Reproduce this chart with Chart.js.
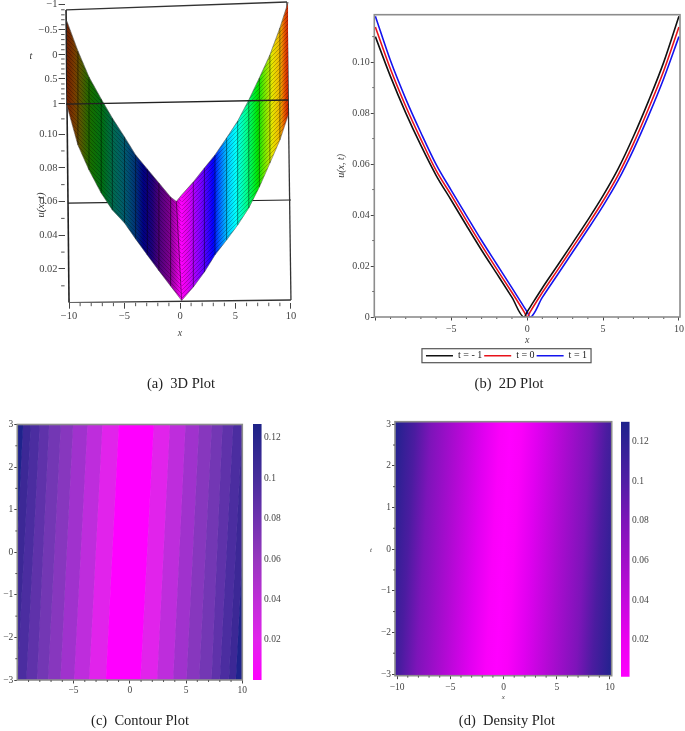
<!DOCTYPE html>
<html>
<head>
<meta charset="utf-8">
<script src="https://cdn.jsdelivr.net/npm/chart.js@4/dist/chart.umd.min.js"></script>
<style>
body { margin: 0; background: #fff; width: 685px; height: 731px; overflow: hidden; position: relative; font-family: "Liberation Serif", serif; }
canvas { position: absolute; }
.cap { position: absolute; font-size: 14.5px; color: #222; white-space: pre; transform: translateX(-50%); }
.lab { position: absolute; font-style: italic; color: #333; white-space: pre; transform: translate(-50%, -50%); }
</style>
</head>
<body>
<canvas id="plot3d" width="300" height="345" style="left:0;top:0"></canvas>
<canvas id="plot2d" width="352" height="372" style="left:333px;top:0"></canvas>
<canvas id="contour" width="250" height="700" style="left:0;top:0"></canvas>
<canvas id="contourBar" width="44" height="700" style="left:253px;top:0"></canvas>
<canvas id="density" width="268" height="706" style="left:350px;top:0"></canvas>
<canvas id="densityBar" width="48" height="700" style="left:620.7px;top:0"></canvas>

<div class="cap" style="left:181px;top:375px">(a)  3D Plot</div>
<div class="cap" style="left:509px;top:375px">(b)  2D Plot</div>
<div class="cap" style="left:140px;top:712px">(c)  Contour Plot</div>
<div class="cap" style="left:507px;top:712px">(d)  Density Plot</div>
<div class="lab" style="left:31px;top:55px;font-size:10px">t</div>
<div class="lab" style="left:40px;top:205px;font-size:10.5px;transform:translate(-50%,-50%) rotate(-90deg)">u(x, t)</div>
<div class="lab" style="left:371px;top:550px;font-size:7px">t</div>

<script>
// panel (a): surface edges
var surfaceX = [-10.2, -9.2, -8.2, -7.1, -6.1, -5, -4, -2.95, -1.9, -0.85, -0.33, 0.15, 1.2, 2.2, 3.15, 4.2, 5.2, 6.2, 7.15, 8.1, 9, 9.75];
var surfaceUpper = [0.1670, 0.1493, 0.1338, 0.1208, 0.1095, 0.0983, 0.0876, 0.0793, 0.0710, 0.0627, 0.0600, 0.0639, 0.0716, 0.0799, 0.0876, 0.0977, 0.1077, 0.1202, 0.1333, 0.1469, 0.1629, 0.1783];
var surfaceLower = [0.1172, 0.0935, 0.0787, 0.0650, 0.0550, 0.0473, 0.0378, 0.0283, 0.0190, 0.0099, 0.0055, 0.0013, 0.0093, 0.0182, 0.0283, 0.0372, 0.0461, 0.0562, 0.0686, 0.0828, 0.0965, 0.1113];
var surfaceStopX = [-10.2, -9.5, -9, -8, -7, -6, -5, -4, -3.3, -2.5, -2, -1, -0.3, 0.1, 0.6, 1.2, 2, 3, 3.5, 4.2, 5, 6, 7, 7.6, 8.3, 9, 9.4, 9.75];
var surfaceStopColor = ['#6e1e00', '#783c00', '#5a5500', '#146e00', '#006e14', '#006950', '#005a6e', '#003278', '#000082', '#1e0078', '#460078', '#78008c', '#c800c8', '#ff00ff', '#e600f0', '#b400ff', '#6e00ff', '#0000ff', '#005aff', '#00beff', '#00ffff', '#00ff8c', '#00e600', '#6ee600', '#e6e600', '#f0b400', '#e65a00', '#c81e00'];
var surfaceTickVals = [0.02, 0.04, 0.06, 0.08, 0.10, 0.1179, 0.1327, 0.147, 0.1618, 0.1767];
var surfaceTickText = ['0.02', '0.04', '0.06', '0.08', '0.10', '1', '0.5', '0', '\u22120.5', '\u22121'];
var surfaceMinorY = [0.01, 0.03, 0.05, 0.07, 0.09, 0.109, 0.1209, 0.1238, 0.1268, 0.1297, 0.1357, 0.1386, 0.1416, 0.1445, 0.15, 0.153, 0.156, 0.159, 0.1648, 0.1678, 0.1707, 0.1737];
var boxBack = [[-10.1, 0.0591], [10, 0.0609]];
var boxMiddle = [[-10.27, 0.1178], [9.73, 0.1202]];
var boxTop = [[-10.27, 0.1736], [9.64, 0.1783]];
var boxBottom = [[-10, 0], [10, 0.0016]];
var boxLeft = [[-10.27, 0.1736], [-10, 0]];
var boxRight = [[9.64, 0.1783], [10, 0.0016]];

// panel (b)
var lineX = [-10, -9, -8, -7, -6, -5, -4, -3, -2, -1, -0.2, 0, 0.2, 1, 2, 3, 4, 5, 6, 7, 8, 9, 10];
var lineTm1 = [0.1100, 0.0943, 0.0801, 0.0673, 0.0556, 0.0458, 0.0359, 0.0262, 0.0170, 0.0077, 0, 0.0020, 0.0039, 0.0114, 0.0202, 0.0291, 0.0381, 0.0476, 0.0582, 0.0708, 0.0848, 0.1000, 0.1180];
var lineT0 = [0.1138, 0.0972, 0.0827, 0.0697, 0.0575, 0.0478, 0.0378, 0.0281, 0.0188, 0.0096, 0.0020, 0, 0.0020, 0.0096, 0.0184, 0.0273, 0.0362, 0.0455, 0.0558, 0.0680, 0.0818, 0.0966, 0.1138];
var lineT1 = [0.1180, 0.1005, 0.0856, 0.0723, 0.0599, 0.0497, 0.0398, 0.0300, 0.0207, 0.0114, 0.0039, 0.0020, 0, 0.0077, 0.0166, 0.0255, 0.0344, 0.0436, 0.0537, 0.0656, 0.0790, 0.0936, 0.1100];
var lineNames = ['t = - 1', 't = 0', 't = 1'];
var lineColors = ['#111111', '#e8121a', '#1414ee'];

// panel (c): contour band edges at t=3 and t=-3
var contourTopX = [-12, -9.48, -8.8, -8, -7.17, -6.13, -5.04, -3.76, -2.43, -0.98, 2.13, 3.56, 4.95, 6.16, 7.29, 8.24, 9.19, 10, 10.6, 12];
var contourBottomX = [-12, -10.6, -10, -9.19, -8.24, -7.26, -6.16, -4.95, -3.61, -2.13, 0.95, 2.43, 3.85, 5.04, 6.16, 7.26, 8, 8.8, 9.42, 12];
var contourColors = ['#1e238c', '#3c2896', '#4b2da0', '#5f32aa', '#7337b4', '#8737be', '#a032cd', '#be2ddc', '#e123eb', '#ff00ff',
  '#e123eb', '#be2ddc', '#a032cd', '#8737be', '#7337b4', '#5f32aa', '#4b2da0', '#3c2896', '#1e238c'];
var contourBarStops = [0, 0.02, 0.04, 0.06, 0.08, 0.10, 0.127];
var contourBarColors = ['#ff00ff', '#e123eb', '#be2dd7', '#9637be', '#6e32af', '#462d9b', '#1e2387'];

// panel (d): colour along the middle row, and how far the ridge leans
var densityStopX = [-11, -9, -7.5, -5, -2.5, -1, 0, 1, 2.5, 5, 7.5, 9, 11];
var densityStopColor = ['#1e238c', '#4b1ca0', '#7d14b9', '#af0ad2', '#e100f0', '#fa00fa', '#ff00ff', '#fa00fa', '#e100f0', '#af0ad2', '#7d14b9', '#4b1ca0', '#1e238c'];
var densityRidgeTop = 0.7;
var densityRidgeBottom = -0.7;
var densityBarStops = [0, 0.02, 0.04, 0.06, 0.08, 0.10, 0.13];
var densityBarColors = ['#ff00ff', '#eb00f0', '#c30adc', '#a00fc8', '#7d14b9', '#501ea5', '#1e238c'];

var xMinor = [-9, -8, -7, -6, -4, -3, -2, -1, 1, 2, 3, 4, 6, 7, 8, 9];
var tMinor = [-2.5, -1.5, -0.5, 0.5, 1.5, 2.5];
var barTicks = [0.02, 0.04, 0.06, 0.08, 0.1, 0.12];

Chart.defaults.animation = false;
Chart.defaults.font.family = '"Liberation Serif", serif';
Chart.defaults.color = '#444';
Chart.defaults.plugins.legend.display = false;
Chart.defaults.plugins.tooltip.enabled = false;

var minorTicks = {
  id: 'minorTicks',
  afterDatasetsDraw: function(chart, args, opts) {
    var c = chart.ctx, a = chart.chartArea;
    c.save();
    c.strokeStyle = opts.color || '#555';
    c.lineWidth = 1;
    c.beginPath();
    (opts.x || []).forEach(function(v) {
      var p = chart.scales.x.getPixelForValue(v);
      c.moveTo(p, a.bottom); c.lineTo(p, a.bottom + opts.len);
    });
    (opts.y || []).forEach(function(v) {
      var p = chart.scales.y.getPixelForValue(v);
      c.moveTo(a.left, p); c.lineTo(a.left - opts.len, p);
    });
    c.stroke();
    c.restore();
  }
};

var frame = {
  id: 'frame',
  afterDatasetsDraw: function(chart) {
    var c = chart.ctx, a = chart.chartArea;
    c.save();
    c.strokeStyle = '#8c8c8c';
    c.lineWidth = 1.6;
    c.strokeRect(a.left, a.top, a.width, a.height);
    c.restore();
  }
};

// the legend reserves 10px more than it uses, so the box is drawn by hand
var legendBox = {
  id: 'legendBox',
  afterDraw: function(chart) {
    var h = chart.legend.legendHitBoxes, c = chart.ctx;
    var l = h[0].left - 4, r = h[h.length - 1].left + h[h.length - 1].width + 4;
    c.save();
    c.strokeStyle = '#555';
    c.lineWidth = 1.2;
    c.strokeRect(l, chart.legend.top, r - l, 14);
    c.restore();
  }
};

function fixed(size, isX) {
  return function(s) {
    if (isX) s.height = size; else s.width = size;
    s.paddingLeft = s.paddingRight = s.paddingTop = s.paddingBottom = 0;
  };
}

function setTicks(vals) {
  return function(s) {
    s.ticks = vals.map(function(v) { return {value: v}; });
  };
}

function niceTick(v) {
  return String(v).replace('-', '\u2212');
}

function linearAxis(min, max, vals, size, isX, fontSize, tickLen, textFn) {
  return {
    type: 'linear',
    min: min,
    max: max,
    afterBuildTicks: setTicks(vals),
    afterFit: fixed(size, isX),
    border: {display: false},
    grid: {drawOnChartArea: false, tickLength: tickLen, tickColor: '#444', tickWidth: 1},
    ticks: {
      font: {size: fontSize},
      padding: 1,
      maxRotation: 0,
      autoSkip: false,
      callback: textFn || niceTick
    }
  };
}

function stopGradient(chart, x0, y0, x1, y1, first, last, stops, colors) {
  var g = chart.ctx.createLinearGradient(x0, y0, x1, y1);
  stops.forEach(function(s, i) {
    g.addColorStop((s - first) / (last - first), colors[i]);
  });
  return g;
}

function pts(xs, ys) {
  return xs.map(function(x, i) { return {x: x, y: ys[i]}; });
}

function segment(p, color, width) {
  return {
    data: p.map(function(q) { return {x: q[0], y: q[1]}; }),
    borderColor: color, borderWidth: width, pointRadius: 0, fill: false
  };
}

function hatch(dir) {
  var t = document.createElement('canvas');
  t.width = t.height = 4;
  var c = t.getContext('2d');
  c.strokeStyle = 'rgba(0,0,0,0.3)';
  c.lineWidth = 0.8;
  c.beginPath();
  if (dir > 0) {
    c.moveTo(0, 4); c.lineTo(4, 0); c.moveTo(-1, 1); c.lineTo(1, -1); c.moveTo(3, 5); c.lineTo(5, 3);
  } else {
    c.moveTo(0, 0); c.lineTo(4, 4); c.moveTo(-1, 3); c.lineTo(1, 5); c.moveTo(3, -1); c.lineTo(5, 1);
  }
  c.stroke();
  return document.getElementById('plot3d').getContext('2d').createPattern(t, 'repeat');
}

// ---- (a) 3D plot, the tilted box is just line datasets
(function() {
  var apex = surfaceX.indexOf(0.15);
  var sets = [];
  var style = '#333';
  sets.push(segment(boxMiddle, '#222', 1.3));
  for (var i = 1; i < surfaceX.length - 1; i++) {
    if (i == apex - 1) continue;
    var topX = i == apex ? surfaceX[apex - 1] : surfaceX[i];
    var topY = i == apex ? surfaceUpper[apex - 1] : surfaceUpper[i];
    sets.push(segment([[surfaceX[i], surfaceLower[i]], [topX, topY]], 'rgba(0,0,0,0.5)', 0.9));
  }
  function edge(xs, ys, fill, bg) {
    return {data: pts(xs, ys), borderColor: 'rgba(90,90,90,0.6)', borderWidth: 0.6, pointRadius: 0, fill: fill, backgroundColor: bg};
  }
  sets.push(edge(surfaceX.slice(0, apex + 1), surfaceUpper.slice(0, apex + 1), '+1', hatch(-1)));
  sets.push(edge(surfaceX.slice(0, apex + 1), surfaceLower.slice(0, apex + 1), false, 'transparent'));
  sets.push(edge(surfaceX.slice(apex), surfaceUpper.slice(apex), '+1', hatch(1)));
  sets.push(edge(surfaceX.slice(apex), surfaceLower.slice(apex), false, 'transparent'));
  sets.push(edge(surfaceX, surfaceUpper, '+1', function(ctx) {
    var c = ctx.chart;
    if (!c.chartArea) return 'transparent';
    var sx = c.scales.x, n = surfaceStopX.length - 1;
    return stopGradient(c, sx.getPixelForValue(surfaceStopX[0]), 0, sx.getPixelForValue(surfaceStopX[n]), 0, surfaceStopX[0], surfaceStopX[n], surfaceStopX, surfaceStopColor);
  }));
  sets.push(edge(surfaceX, surfaceLower, false, 'transparent'));
  sets.push(segment(boxTop, style, 1.3));
  sets.push(segment(boxBottom, style, 1.3));
  sets.push(segment(boxLeft, '#222', 1.6));
  sets.push(segment(boxRight, style, 1.3));
  sets.push(segment(boxBack, '#222', 1.2));

  var xAxis = linearAxis(-10.4, 10.4, [-10, -5, 0, 5, 10], 42.3, true, 10.5, 6);
  xAxis.title = {display: true, text: 'x', font: {size: 10, style: 'italic'}, padding: {top: 0, bottom: 6}};
  new Chart(document.getElementById('plot3d'), {
    type: 'line',
    data: {datasets: sets},
    options: {
      responsive: false,
      layout: {padding: {left: 0, top: 1, right: 4.6, bottom: 0}},
      scales: {
        x: xAxis,
        y: linearAxis(0, 0.1789, surfaceTickVals, 64.6, false, 10.5, 6, function(v) {
          return surfaceTickText[surfaceTickVals.indexOf(v)];
        })
      },
      plugins: {minorTicks: {x: xMinor, y: surfaceMinorY, len: 3.5}}
    },
    plugins: [minorTicks]
  });
})();

// ---- (b) 2D plot
(function() {
  var series = [lineTm1, lineT0, lineT1];
  var xAxis = linearAxis(-10.07, 10.07, [-10, -5, 0, 5, 10], 31.7, true, 10, 3.5, function(v) {
    return v == -10 ? '' : niceTick(v);
  });
  xAxis.ticks.padding = 3;
  xAxis.title = {display: true, text: 'x', font: {size: 10, style: 'italic'}, padding: {top: 0, bottom: 2}};
  var yAxis = linearAxis(0, 0.1186, [0, 0.02, 0.04, 0.06, 0.08, 0.1], 41.3, false, 10, 3.5, function(v) {
    return v == 0 ? '0' : v.toFixed(2);
  });
  yAxis.title = {display: true, text: 'u(x, t)', font: {size: 10, style: 'italic'}, padding: {top: 2, bottom: 0}};
  new Chart(document.getElementById('plot2d'), {
    type: 'line',
    data: {
      datasets: series.map(function(s, i) {
        return {label: lineNames[i], data: pts(lineX, s), borderColor: lineColors[i], backgroundColor: lineColors[i], borderWidth: 1.6, pointRadius: 0, cubicInterpolationMode: 'monotone'};
      })
    },
    options: {
      responsive: false,
      layout: {padding: {left: 0, top: 14.7, right: 5, bottom: 1.3}},
      scales: {x: xAxis, y: yAxis},
      plugins: {
        legend: {
          display: true,
          position: 'bottom',
          labels: {usePointStyle: true, pointStyle: 'line', pointStyleWidth: 27, boxHeight: 2, padding: 2, color: '#222', font: {size: 10}}
        },
        minorTicks: {x: xMinor, y: [0.01, 0.03, 0.05, 0.07, 0.09, 0.11], len: 2}
      }
    },
    plugins: [minorTicks, frame, legendBox]
  });
})();

// ---- (c) contour plot, each band is the fill between two edge lines
(function() {
  var sets = contourTopX.map(function(top, i) {
    var col = contourColors[i] || contourColors[contourColors.length - 1];
    return {
      data: [{x: contourBottomX[i], y: -3}, {x: top, y: 3}],
      borderWidth: 1, borderColor: col, pointRadius: 0,
      fill: i < contourColors.length ? '+1' : false,
      backgroundColor: col
    };
  });
  new Chart(document.getElementById('contour'), {
    type: 'line',
    data: {datasets: sets},
    options: {
      responsive: false,
      indexAxis: 'y',
      layout: {padding: {left: 0, top: 424.5, right: 7.7, bottom: 0}},
      scales: {
        x: linearAxis(-10, 10, [-5, 0, 5, 10], 20, true, 9.5, 3.5),
        y: linearAxis(-3, 3, [-3, -2, -1, 0, 1, 2, 3], 17.3, false, 9.5, 3)
      },
      plugins: {minorTicks: {x: xMinor, y: tMinor, len: 2}}
    },
    plugins: [frame, minorTicks]
  });
})();

// ---- (d) density plot, one rectangle painted with a gradient that leans along the ridge
(function() {
  function densityFill(ctx) {
    var c = ctx.chart;
    if (!c.chartArea) return 'transparent';
    var sx = c.scales.x, sy = c.scales.y, n = densityStopX.length - 1;
    var midY = sy.getPixelForValue(0);
    var ax = sx.getPixelForValue(densityStopX[0]), bx = sx.getPixelForValue(densityStopX[n]);
    // normal to the ridge line, so equal colours stay parallel to it
    var dx = sx.getPixelForValue(densityRidgeTop) - sx.getPixelForValue(densityRidgeBottom);
    var dy = sy.getPixelForValue(3) - sy.getPixelForValue(-3);
    var nx = -dy, ny = dx;
    var k = (bx - ax) * nx / (nx * nx + ny * ny);
    return stopGradient(c, ax, midY, ax + nx * k, midY + ny * k, densityStopX[0], densityStopX[n], densityStopX, densityStopColor);
  }
  var xAxis = linearAxis(-10.2, 10.16, [-10, -5, 0, 5, 10], 30.3, true, 9.5, 3.5);
  xAxis.ticks.padding = 3;
  xAxis.title = {display: true, text: 'x', font: {size: 7, style: 'italic'}, padding: {top: 0, bottom: 5}};
  new Chart(document.getElementById('density'), {
    type: 'line',
    data: {
      datasets: [
        {data: [{x: -10.2, y: -3.04}, {x: -10.2, y: 3.06}], borderWidth: 0, pointRadius: 0, fill: '+1', backgroundColor: densityFill},
        {data: [{x: 10.16, y: -3.04}, {x: 10.16, y: 3.06}], borderWidth: 0, pointRadius: 0, fill: false}
      ]
    },
    options: {
      responsive: false,
      indexAxis: 'y',
      layout: {padding: {left: 0, top: 421.7, right: 6.3, bottom: 0}},
      scales: {
        x: xAxis,
        y: linearAxis(-3.04, 3.06, [-3, -2, -1, 0, 1, 2, 3], 45, false, 9.5, 3)
      },
      plugins: {minorTicks: {x: xMinor, y: tMinor, len: 2}}
    },
    plugins: [frame, minorTicks]
  });
})();

// ---- colour bars, a single floating bar each
function colorBar(id, top, bottom, min, max, stops, colors) {
  new Chart(document.getElementById(id), {
    type: 'bar',
    data: {
      labels: ['u'],
      datasets: [{
        data: [[min, max]],
        barPercentage: 1,
        categoryPercentage: 1,
        backgroundColor: function(ctx) {
          var c = ctx.chart;
          if (!c.chartArea) return 'transparent';
          var sy = c.scales.y;
          return stopGradient(c, 0, sy.getPixelForValue(stops[0]), 0, sy.getPixelForValue(stops[stops.length - 1]), stops[0], stops[stops.length - 1], stops, colors);
        }
      }]
    },
    options: {
      responsive: false,
      layout: {padding: {left: 0, top: top, right: 0, bottom: 700 - bottom}},
      scales: {
        x: {display: false},
        y: {
          type: 'linear',
          position: 'right',
          min: min,
          max: max,
          afterBuildTicks: setTicks(barTicks),
          afterFit: fixed(document.getElementById(id).width - 8.6, false),
          border: {display: false},
          grid: {display: false, drawTicks: false},
          ticks: {font: {size: 9.5}, padding: 2.5, callback: function(v) { return String(v == 0.1 ? 0.1 : v.toFixed(2)); }}
        }
      }
    }
  });
}
colorBar('contourBar', 424, 680, 0.0002, 0.1268, contourBarStops, contourBarColors);
colorBar('densityBar', 421.7, 676.7, 0.0014, 0.13, densityBarStops, densityBarColors);
</script>
</body>
</html>
